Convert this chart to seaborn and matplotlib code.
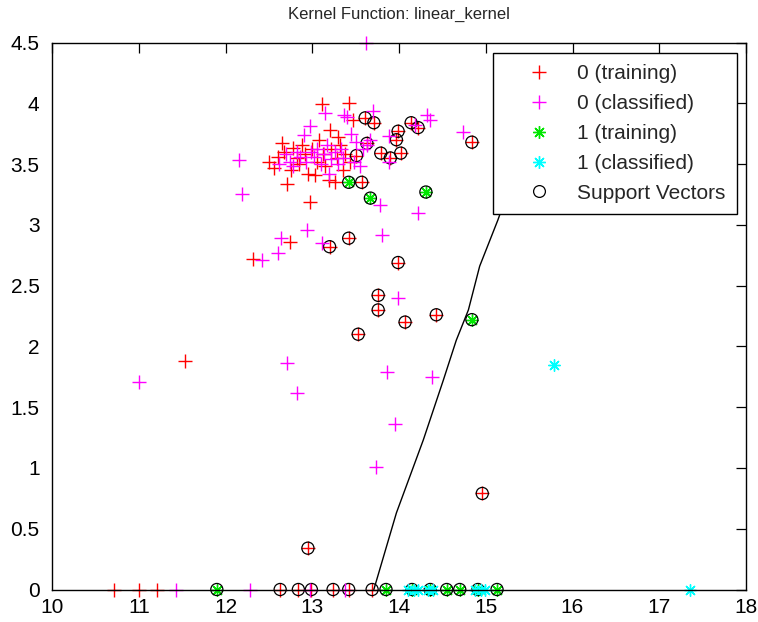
import matplotlib
matplotlib.use("Agg")
import matplotlib.pyplot as plt
from matplotlib.lines import Line2D
import numpy as np
import pandas as pd
import seaborn as sns

# ---- data -------------------------------------------------------------
# class 0, training points (not support vectors)
train0_x = [11.53, 12.97, 12.71, 12.74, 12.32, 13.11, 13.42, 13.47,
            10.71, 11.00, 11.21,
            12.50, 12.56, 12.60, 12.65, 12.68, 12.75, 12.78, 12.82, 12.85,
            12.88, 12.92, 12.95, 13.00, 13.03, 13.05, 13.08, 13.12, 13.15,
            13.19, 13.20, 13.22, 13.26, 13.28, 13.30, 13.32, 13.35, 13.38,
            13.44]
train0_y = [1.88, 3.19, 3.34, 2.86, 2.72, 3.99, 4.00, 3.86,
            0.00, 0.00, 0.00,
            3.52, 3.47, 3.56, 3.67, 3.60, 3.45, 3.63, 3.55, 3.50,
            3.66, 3.58, 3.42, 3.62, 3.41, 3.52, 3.70, 3.58, 3.48,
            3.37, 3.78, 3.62, 3.35, 3.55, 3.72, 3.66, 3.45, 3.58,
            3.52]

# class 0, training points that are support vectors
sv0_x = [13.61, 13.71, 14.14, 14.22, 13.99, 13.97, 14.84, 13.63, 14.02,
         13.79, 13.90, 13.51, 13.57, 13.20, 13.42, 13.99, 13.76, 13.76,
         14.07, 14.43, 13.53, 14.96, 12.95,
         12.63, 12.84, 12.99, 13.24, 13.42, 13.69]
sv0_y = [3.88, 3.84, 3.84, 3.80, 3.77, 3.70, 3.68, 3.67, 3.59,
         3.59, 3.55, 3.57, 3.35, 2.82, 2.89, 2.69, 2.42, 2.30,
         2.20, 2.26, 2.10, 0.79, 0.34,
         0.00, 0.00, 0.00, 0.00, 0.00, 0.00]

# class 1, training points (all of them are support vectors)
sv1_x = [13.42, 13.67, 14.31, 14.84,
         11.90, 13.85, 14.15, 14.36, 14.55, 14.70, 14.91, 15.13]
sv1_y = [3.35, 3.22, 3.27, 2.22,
         0.00, 0.00, 0.00, 0.00, 0.00, 0.00, 0.00, 0.00]

# points classified as 0
class0_x = [11.00, 12.71, 12.82, 13.86, 14.38, 13.95, 13.73, 12.15, 12.19,
            12.94, 12.64, 13.11, 12.60, 12.42, 13.78, 14.22, 13.80, 13.99,
            13.62, 13.70, 13.37, 14.32, 14.36, 14.18, 14.74, 13.88, 13.89,
            13.67, 13.63,
            12.62, 12.70, 12.74, 12.78, 12.82, 12.86, 12.90, 12.93, 12.97,
            12.98, 13.02, 13.06, 13.10, 13.13, 13.15, 13.17, 13.19, 13.22,
            13.26, 13.30, 13.33, 13.36, 13.40, 13.45, 13.48, 13.55, 13.58,
            13.50,
            11.43, 12.28, 12.97, 13.38]
class0_y = [1.71, 1.86, 1.62, 1.79, 1.75, 1.36, 1.01, 3.53, 3.25,
            2.96, 2.89, 2.85, 2.77, 2.71, 3.16, 3.10, 2.92, 2.40,
            4.50, 3.94, 3.90, 3.90, 3.86, 3.82, 3.76, 3.73, 3.52,
            3.70, 3.66,
            3.50, 3.58, 3.52, 3.48, 3.60, 3.56, 3.74, 3.52, 3.81,
            3.60, 3.56, 3.62, 3.50, 3.58, 3.92, 3.66, 3.42, 3.54,
            3.60, 3.50, 3.62, 3.55, 3.89, 3.75, 3.52, 3.48, 3.62,
            3.68,
            0.00, 0.00, 0.00, 0.00]

# points classified as 1
class1_x = [15.79, 14.10, 14.17, 14.22, 14.33, 14.39, 14.88, 14.94, 14.99, 17.35]
class1_y = [1.85, 0.00, 0.00, 0.00, 0.00, 0.00, 0.00, 0.00, 0.00, 0.00]

# separating line of the linear kernel
boundary_x = [13.71, 13.97, 14.28, 14.51, 14.66, 14.80, 14.93, 15.14, 15.18, 15.45]
boundary_y = [0.00, 0.63, 1.23, 1.72, 2.05, 2.30, 2.66, 3.04, 3.12, 3.75]

x_ticks = [10, 11, 12, 13, 14, 15, 16, 17, 18]
y_ticks = [0, 0.5, 1, 1.5, 2, 2.5, 3, 3.5, 4, 4.5]
y_tick_labels = ["0", "0.5", "1", "1.5", "2", "2.5", "3", "3.5", "4", "4.5"]

legend_labels = ["0 (training)", "0 (classified)", "1 (training)",
                 "1 (classified)", "Support Vectors"]

# ---- style ------------------------------------------------------------
sns.set_style("white")
plt.rcParams["font.family"] = ["Liberation Sans", "DejaVu Sans"]

RED = "#ff0000"
MAGENTA = "#ff00ff"
GREEN = "#00e600"
CYAN = "#00ffff"
ASTERISK = (8, 2, 0)

fig = plt.figure(figsize=(7.58, 6.22), dpi=100)
ax = fig.add_axes([52 / 758, (622 - 589.5) / 622, (746 - 52) / 758, 547 / 622])

frames = {
    "train0": pd.DataFrame({"x": train0_x + sv0_x, "y": train0_y + sv0_y}),
    "train1": pd.DataFrame({"x": sv1_x, "y": sv1_y}),
    "sv": pd.DataFrame({"x": sv0_x + sv1_x, "y": sv0_y + sv1_y}),
    "class0": pd.DataFrame({"x": class0_x, "y": class0_y}),
    "class1": pd.DataFrame({"x": class1_x, "y": class1_y}),
}

def draw(df, marker, color, size, lw):
    sns.scatterplot(data=df, x="x", y="y", marker=marker, color=color,
                    s=size, linewidth=lw, ax=ax, legend=False, zorder=2)
    coll = ax.collections[-1]
    coll.set_clip_on(False)
    return coll

draw(frames["train0"], "+", RED, 100, 1.0)
draw(frames["train1"], ASTERISK, GREEN, 70, 1.0)
circles = draw(frames["sv"], "o", "black", 76, 0.9)
circles.set_facecolor("none")
circles.set_edgecolor("black")
draw(frames["class0"], "+", MAGENTA, 100, 1.0)
draw(frames["class1"], ASTERISK, CYAN, 70, 1.0)

ax.plot(boundary_x, boundary_y, color="black", linewidth=1.0, zorder=3)

ax.set_xlim(10, 18)
ax.set_ylim(0, 4.5)
ax.set_xticks(x_ticks)
ax.set_xticklabels([str(t) for t in x_ticks])
ax.set_yticks(y_ticks)
ax.set_yticklabels(y_tick_labels)
ax.set_xlabel("")
ax.set_ylabel("")
ax.tick_params(direction="in", length=7, width=0.9, top=True, right=True,
               labelsize=15, colors="black", pad=6)
ax.tick_params(axis="y", pad=9)
for sp in ax.spines.values():
    sp.set_visible(True)
    sp.set_color("black")
    sp.set_linewidth(1.0)

ax.set_title("Kernel Function: linear_kernel", fontsize=12, pad=17)

handles = [
    Line2D([], [], ls="", marker="+", color=RED, markersize=10, mew=1.0),
    Line2D([], [], ls="", marker="+", color=MAGENTA, markersize=10, mew=1.0),
    Line2D([], [], ls="", marker=ASTERISK, color=GREEN, markersize=9, mew=1.0),
    Line2D([], [], ls="", marker=ASTERISK, color=CYAN, markersize=9, mew=1.0),
    Line2D([], [], ls="", marker="o", mfc="none", mec="black", markersize=8.5, mew=0.9),
]
leg = ax.legend(handles, legend_labels, loc="upper right",
                bbox_to_anchor=((737 - 52) / 694, (589.5 - 53) / 547),
                borderaxespad=0, fontsize=15, frameon=True, fancybox=False,
                framealpha=1, edgecolor="black", borderpad=0.55,
                handlelength=3.3, handletextpad=0.2, labelspacing=0.52)
leg.get_frame().set_linewidth(1.0)
leg.set_zorder(5)

fig.savefig("out.png", dpi=100, facecolor="white")
